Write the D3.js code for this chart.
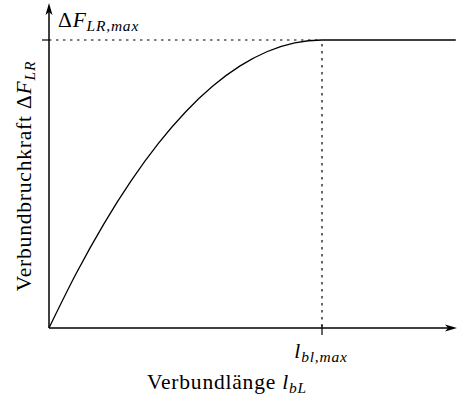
<!DOCTYPE html>
<html>
<head>
<meta charset="utf-8">
<script src="https://cdn.jsdelivr.net/npm/d3@7"></script>
<style>
  body { margin: 0; background: #fff; }
  svg { font-family: "Liberation Serif", "DejaVu Serif", serif; }
</style>
</head>
<body>
<div id="chart"></div>
<script>
// curve: bond length (relative to l_bl,max) vs. bond force (relative to max)
const bondLength = [0, 0.1, 0.2, 0.3, 0.4, 0.5, 0.6, 0.7, 0.8, 0.9, 1.0, 1.2, 1.49];
const bondForce  = [0, 0.19, 0.36, 0.51, 0.64, 0.75, 0.84, 0.91, 0.96, 0.99, 1.0, 1.0, 1.0];
const xMarks = [1.0];   // l_bl,max
const yMarks = [1.0];   // ΔF_LR,max

const width = 457, height = 400;
const margin = { top: 40, right: 0, bottom: 72, left: 49 };

const svg = d3.select("#chart").append("svg")
    .attr("width", width)
    .attr("height", height);

const x = d3.scaleLinear()
    .domain([0, 1])
    .range([margin.left, 322]);

const y = d3.scaleLinear()
    .domain([0, 1])
    .range([height - margin.bottom, margin.top]);

const x0 = x(0), y0 = y(0);

// dotted guides to the maximum
svg.append("line")
    .attr("x1", x0).attr("x2", x(xMarks[0]))
    .attr("y1", y(yMarks[0])).attr("y2", y(yMarks[0]))
    .attr("stroke", "#000").attr("stroke-width", 1.2)
    .attr("stroke-dasharray", "2.5,4.5");
svg.append("line")
    .attr("x1", x(xMarks[0])).attr("x2", x(xMarks[0]))
    .attr("y1", y(yMarks[0]) + 4).attr("y2", y0)
    .attr("stroke", "#000").attr("stroke-width", 1.2)
    .attr("stroke-dasharray", "2.5,4.5");

// curve
const line = d3.line()
    .curve(d3.curveMonotoneX)
    .x((d, i) => x(bondLength[i]))
    .y(d => y(d));

svg.append("path")
    .attr("d", line(bondForce))
    .attr("fill", "none")
    .attr("stroke", "#000")
    .attr("stroke-width", 1.3);

// axes with arrow heads
svg.append("line")
    .attr("x1", x0).attr("x2", x0)
    .attr("y1", y0).attr("y2", 12)
    .attr("stroke", "#000").attr("stroke-width", 1.5);
svg.append("path")
    .attr("d", `M${x0},3 L${x0 - 3.5},15 L${x0},12 L${x0 + 3.5},15 Z`)
    .attr("fill", "#000");

svg.append("line")
    .attr("x1", x0).attr("x2", width - 8)
    .attr("y1", y0).attr("y2", y0)
    .attr("stroke", "#000").attr("stroke-width", 1.5);
svg.append("path")
    .attr("d", `M${width},${y0} L${width - 12},${y0 - 3.5} L${width - 9},${y0} L${width - 12},${y0 + 3.5} Z`)
    .attr("fill", "#000");

// ticks
svg.selectAll(".ytick").data(yMarks).join("line")
    .attr("x1", x0 - 7).attr("x2", x0)
    .attr("y1", d => y(d)).attr("y2", d => y(d))
    .attr("stroke", "#000").attr("stroke-width", 1.2);
svg.selectAll(".xtick").data(xMarks).join("line")
    .attr("x1", d => x(d)).attr("x2", d => x(d))
    .attr("y1", y0 - 3).attr("y2", y0 + 7)
    .attr("stroke", "#000").attr("stroke-width", 1.2);

// tick labels
const fs = 21.5;
const ls = 0.8;
const sub = 0.72;
const yLab = svg.append("text")
    .attr("x", x0 + 9)
    .attr("y", 27)
    .attr("font-size", fs)
    .attr("letter-spacing", ls);
yLab.append("tspan").text("Δ");
yLab.append("tspan").attr("font-style", "italic").text("F");
yLab.append("tspan").attr("font-style", "italic").attr("font-size", fs * sub)
    .attr("dy", 4).text("LR,max");

const xLab = svg.append("text")
    .attr("x", x(xMarks[0]) - 1)
    .attr("y", 358)
    .attr("text-anchor", "middle")
    .attr("font-size", fs)
    .attr("letter-spacing", ls);
xLab.append("tspan").attr("font-style", "italic").text("l");
xLab.append("tspan").attr("font-style", "italic").attr("font-size", fs * sub)
    .attr("dy", 4).text("bl,max");

// axis titles
const xTitle = svg.append("text")
    .attr("x", 227)
    .attr("y", 389)
    .attr("text-anchor", "middle")
    .attr("font-size", fs)
    .attr("letter-spacing", ls);
xTitle.append("tspan").text("Verbundlänge ");
xTitle.append("tspan").attr("font-style", "italic").text("l");
xTitle.append("tspan").attr("font-style", "italic").attr("font-size", fs * sub)
    .attr("dy", 4).text("bL");

const yTitle = svg.append("text")
    .attr("transform", `translate(31,176) rotate(-90)`)
    .attr("text-anchor", "middle")
    .attr("font-size", fs)
    .attr("letter-spacing", ls);
yTitle.append("tspan").text("Verbundbruchkraft Δ");
yTitle.append("tspan").attr("font-style", "italic").text("F");
yTitle.append("tspan").attr("font-style", "italic").attr("font-size", fs * sub)
    .attr("dy", 4).text("LR");
</script>
</body>
</html>
